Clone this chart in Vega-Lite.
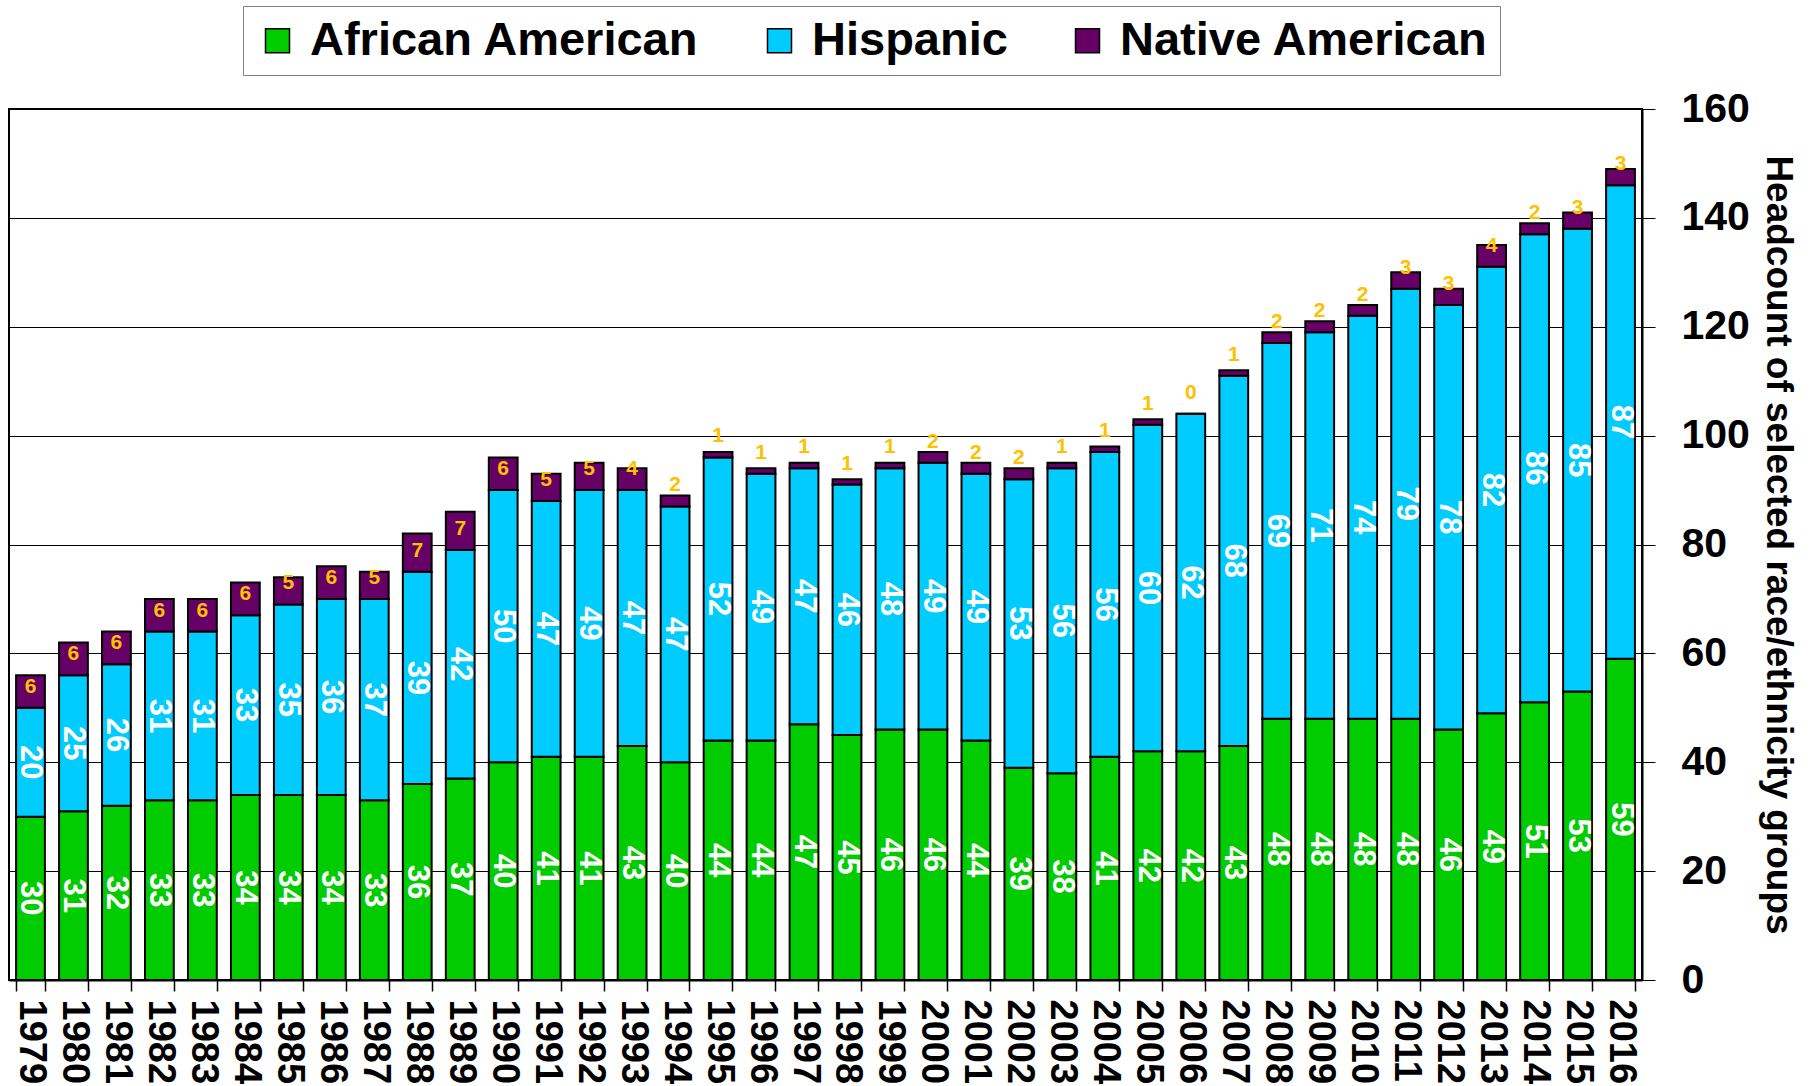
{
  "$schema": "https://vega.github.io/schema/vega-lite/v6.json",
  "width": 1633,
  "height": 871,
  "autosize": {"type": "none"},
  "padding": {"left": 9, "top": 109, "right": 168, "bottom": 106},
  "background": "white",
  "config": {
    "font": "Liberation Sans",
    "view": {"stroke": "black", "strokeWidth": 2},
    "axis": {"labelFont": "Liberation Sans", "titleFont": "Liberation Sans", "labelColor": "black", "titleColor": "black"}
  },
  "data": {"values": [
    {"year":"1979","race":"African American","count":30},{"year":"1979","race":"Hispanic","count":20},{"year":"1979","race":"Native American","count":6},
    {"year":"1980","race":"African American","count":31},{"year":"1980","race":"Hispanic","count":25},{"year":"1980","race":"Native American","count":6},
    {"year":"1981","race":"African American","count":32},{"year":"1981","race":"Hispanic","count":26},{"year":"1981","race":"Native American","count":6},
    {"year":"1982","race":"African American","count":33},{"year":"1982","race":"Hispanic","count":31},{"year":"1982","race":"Native American","count":6},
    {"year":"1983","race":"African American","count":33},{"year":"1983","race":"Hispanic","count":31},{"year":"1983","race":"Native American","count":6},
    {"year":"1984","race":"African American","count":34},{"year":"1984","race":"Hispanic","count":33},{"year":"1984","race":"Native American","count":6},
    {"year":"1985","race":"African American","count":34},{"year":"1985","race":"Hispanic","count":35},{"year":"1985","race":"Native American","count":5},
    {"year":"1986","race":"African American","count":34},{"year":"1986","race":"Hispanic","count":36},{"year":"1986","race":"Native American","count":6},
    {"year":"1987","race":"African American","count":33},{"year":"1987","race":"Hispanic","count":37},{"year":"1987","race":"Native American","count":5},
    {"year":"1988","race":"African American","count":36},{"year":"1988","race":"Hispanic","count":39},{"year":"1988","race":"Native American","count":7},
    {"year":"1989","race":"African American","count":37},{"year":"1989","race":"Hispanic","count":42},{"year":"1989","race":"Native American","count":7},
    {"year":"1990","race":"African American","count":40},{"year":"1990","race":"Hispanic","count":50},{"year":"1990","race":"Native American","count":6},
    {"year":"1991","race":"African American","count":41},{"year":"1991","race":"Hispanic","count":47},{"year":"1991","race":"Native American","count":5},
    {"year":"1992","race":"African American","count":41},{"year":"1992","race":"Hispanic","count":49},{"year":"1992","race":"Native American","count":5},
    {"year":"1993","race":"African American","count":43},{"year":"1993","race":"Hispanic","count":47},{"year":"1993","race":"Native American","count":4},
    {"year":"1994","race":"African American","count":40},{"year":"1994","race":"Hispanic","count":47},{"year":"1994","race":"Native American","count":2},
    {"year":"1995","race":"African American","count":44},{"year":"1995","race":"Hispanic","count":52},{"year":"1995","race":"Native American","count":1},
    {"year":"1996","race":"African American","count":44},{"year":"1996","race":"Hispanic","count":49},{"year":"1996","race":"Native American","count":1},
    {"year":"1997","race":"African American","count":47},{"year":"1997","race":"Hispanic","count":47},{"year":"1997","race":"Native American","count":1},
    {"year":"1998","race":"African American","count":45},{"year":"1998","race":"Hispanic","count":46},{"year":"1998","race":"Native American","count":1},
    {"year":"1999","race":"African American","count":46},{"year":"1999","race":"Hispanic","count":48},{"year":"1999","race":"Native American","count":1},
    {"year":"2000","race":"African American","count":46},{"year":"2000","race":"Hispanic","count":49},{"year":"2000","race":"Native American","count":2},
    {"year":"2001","race":"African American","count":44},{"year":"2001","race":"Hispanic","count":49},{"year":"2001","race":"Native American","count":2},
    {"year":"2002","race":"African American","count":39},{"year":"2002","race":"Hispanic","count":53},{"year":"2002","race":"Native American","count":2},
    {"year":"2003","race":"African American","count":38},{"year":"2003","race":"Hispanic","count":56},{"year":"2003","race":"Native American","count":1},
    {"year":"2004","race":"African American","count":41},{"year":"2004","race":"Hispanic","count":56},{"year":"2004","race":"Native American","count":1},
    {"year":"2005","race":"African American","count":42},{"year":"2005","race":"Hispanic","count":60},{"year":"2005","race":"Native American","count":1},
    {"year":"2006","race":"African American","count":42},{"year":"2006","race":"Hispanic","count":62},{"year":"2006","race":"Native American","count":0},
    {"year":"2007","race":"African American","count":43},{"year":"2007","race":"Hispanic","count":68},{"year":"2007","race":"Native American","count":1},
    {"year":"2008","race":"African American","count":48},{"year":"2008","race":"Hispanic","count":69},{"year":"2008","race":"Native American","count":2},
    {"year":"2009","race":"African American","count":48},{"year":"2009","race":"Hispanic","count":71},{"year":"2009","race":"Native American","count":2},
    {"year":"2010","race":"African American","count":48},{"year":"2010","race":"Hispanic","count":74},{"year":"2010","race":"Native American","count":2},
    {"year":"2011","race":"African American","count":48},{"year":"2011","race":"Hispanic","count":79},{"year":"2011","race":"Native American","count":3},
    {"year":"2012","race":"African American","count":46},{"year":"2012","race":"Hispanic","count":78},{"year":"2012","race":"Native American","count":3},
    {"year":"2013","race":"African American","count":49},{"year":"2013","race":"Hispanic","count":82},{"year":"2013","race":"Native American","count":4},
    {"year":"2014","race":"African American","count":51},{"year":"2014","race":"Hispanic","count":86},{"year":"2014","race":"Native American","count":2},
    {"year":"2015","race":"African American","count":53},{"year":"2015","race":"Hispanic","count":85},{"year":"2015","race":"Native American","count":3},
    {"year":"2016","race":"African American","count":59},{"year":"2016","race":"Hispanic","count":87},{"year":"2016","race":"Native American","count":3}
  ]},
  "transform": [
    {"stack": "count", "groupby": ["year"], "sort": [{"field": "race", "order": "ascending"}], "as": ["y0", "y1"]}
  ],
  "layer": [
    {
      "mark": {"type": "bar", "stroke": "black", "strokeWidth": 2},
      "encoding": {
        "x": {
          "field": "year", "type": "ordinal", "title": null,
          "scale": {"type": "band", "paddingInner": 0.33, "paddingOuter": 0.165},
          "axis": {
            "labelAngle": 90, "labelAlign": "left", "labelBaseline": "middle",
            "labelFontSize": 38, "labelFontWeight": "bold", "labelPadding": 8,
            "tickSize": 11, "tickColor": "black", "tickWidth": 1.5, "tickBand": "extent",
            "domainColor": "black", "domainWidth": 2, "grid": false
          }
        },
        "y": {
          "field": "y1", "type": "quantitative",
          "title": "Headcount of selected race/ethnicity groups",
          "scale": {"domain": [0, 160], "nice": false},
          "axis": {
            "orient": "right", "values": [0, 20, 40, 60, 80, 100, 120, 140, 160],
            "labelFontSize": 41, "labelFontWeight": "bold", "labelPadding": 26,
            "tickSize": 13, "tickColor": "black", "tickWidth": 1,
            "domainColor": "black", "domainWidth": 2,
            "grid": true, "gridColor": "black", "gridWidth": 1, "gridOpacity": 1,
            "titleFontSize": 37, "titleFontWeight": "bold", "titleAngle": 90, "titlePadding": 9
          }
        },
        "y2": {"field": "y0"},
        "color": {
          "field": "race", "type": "nominal",
          "scale": {"domain": ["African American", "Hispanic", "Native American"], "range": ["#00CC00", "#00CCFF", "#660066"]},
          "legend": {
            "orient": "none", "legendX": 234, "legendY": -103, "direction": "horizontal",
            "title": null,
            "labelFontSize": 47, "labelFontWeight": "bold", "labelFont": "Liberation Sans", "labelColor": "black",
            "labelOffset": 9, "columnPadding": 56, "labelLimit": 1000,
            "symbolType": "square", "symbolSize": 576, "symbolStrokeColor": "black", "symbolStrokeWidth": 1.5, "symbolOpacity": 1,
            "padding": 11, "strokeColor": "#808080", "fillColor": "white"
          }
        }
      }
    },
    {
      "transform": [
        {"filter": "datum.race != 'Native American'"},
        {"fold": ["y0", "y1"], "as": ["edge", "pos"]}
      ],
      "mark": {"type": "text", "angle": 90, "align": "center", "baseline": "middle", "color": "white", "fontSize": 31, "fontWeight": "bold", "font": "Liberation Sans"},
      "encoding": {
        "x": {"field": "year", "type": "ordinal", "title": null},
        "y": {"field": "pos", "aggregate": "mean", "type": "quantitative", "title": "Headcount of selected race/ethnicity groups"},
        "detail": {"field": "race", "type": "nominal"},
        "text": {"field": "count", "type": "quantitative", "format": "d"}
      }
    },
    {
      "transform": [{"filter": "datum.race == 'Native American'"}],
      "mark": {"type": "text", "align": "center", "baseline": "alphabetic", "dy": -15, "color": "#FFC000", "fontSize": 21, "fontWeight": "bold", "font": "Liberation Sans"},
      "encoding": {
        "x": {"field": "year", "type": "ordinal", "title": null},
        "y": {"field": "y0", "type": "quantitative", "title": "Headcount of selected race/ethnicity groups"},
        "text": {"field": "count", "type": "quantitative", "format": "d"}
      }
    }
  ]
}
